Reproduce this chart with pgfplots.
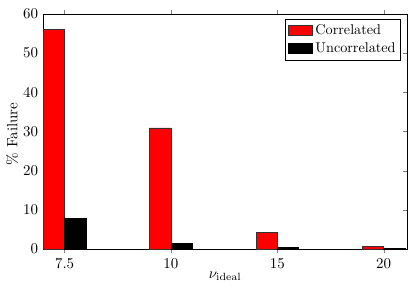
\documentclass[border=0pt]{standalone}
\usepackage{pgfplots}
\pgfplotsset{compat=1.18}
\begin{document}
\begin{tikzpicture}
\begin{axis}[
  scale only axis,
  width=242.4bp, height=156.7bp,
  xmin=-0.2, xmax=3.22,
  ymin=0, ymax=60,
  ytick={0,10,20,30,40,50,60},
  xtick={0,1,2,3},
  xticklabels={7.5,10,15,20},
  tick align=inside,
  xtick pos=both, ytick pos=both,
  major tick length=2.7bp,
  ybar, bar width=0.2,
  ylabel={\% Failure},
  xlabel={$\nu_{\mathrm{ideal}}$},
  ylabel style={at={(axis description cs:-0.0854,0.49)}, anchor=center},
  xlabel style={at={(axis description cs:0.5,-0.115)}, anchor=center},
  legend style={at={(rel axis cs:0.984,0.978)}, anchor=north east, draw=black, line width=0.5pt, font=\fontsize{9.5}{11}\selectfont, row sep=0pt, inner sep=1.5pt},
  legend cell align=left,
  legend image code/.code={\draw[#1] (0bp,-3bp) rectangle (16bp,3.5bp);},
]
\addplot+[bar shift=-0.1, fill=red, draw=black!80, line width=0.5pt] coordinates {(0,56) (1,30.9) (2,4.3) (3,0.6)};
\addplot+[bar shift=0.1, fill=black, draw=black, line width=0.5pt] coordinates {(0,7.8) (1,1.5) (2,0.35) (3,0.25)};
\legend{Correlated, Uncorrelated}
\end{axis}
\path (current axis.south west) ++(-28.9bp,-28.7bp) rectangle ([xshift=5.3bp,yshift=9.3bp]current axis.north east);
\end{tikzpicture}
\end{document}
